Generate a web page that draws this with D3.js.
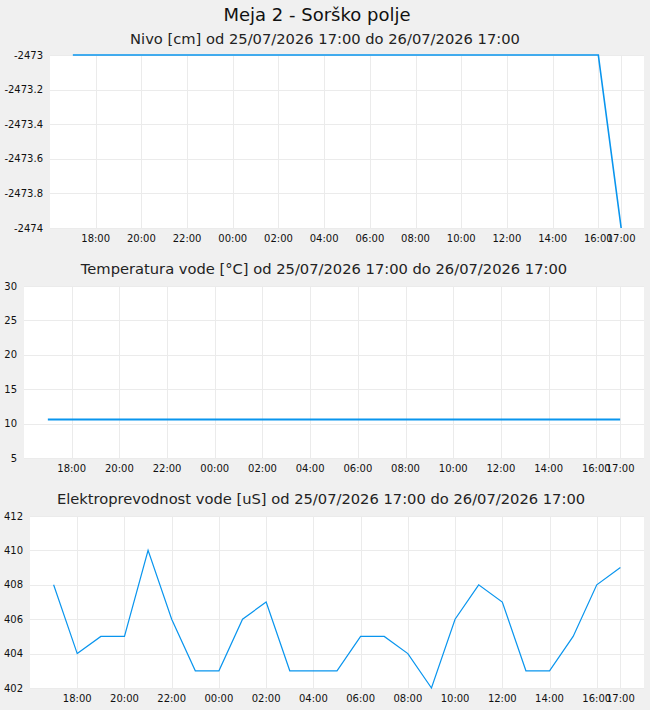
<!DOCTYPE html>
<html>
<head>
<meta charset="utf-8">
<script src="https://cdn.jsdelivr.net/npm/d3@7"></script>
<style>
  body { margin: 0; background: #f0f0f0; }
  svg { display: block; font-family: "DejaVu Sans", sans-serif; }
  .grid line { stroke: #ebebeb; stroke-width: 1; }
  .tick-label { font-size: 10px; fill: #111; }
  .sub-title { font-size: 14.7px; fill: #222; }
</style>
</head>
<body>
<svg id="chart" width="650" height="710"></svg>
<script>
// ======== data
const times = [
  "2026-07-25 17:00", "2026-07-25 18:00", "2026-07-25 19:00", "2026-07-25 20:00",
  "2026-07-25 21:00", "2026-07-25 22:00", "2026-07-25 23:00", "2026-07-26 00:00",
  "2026-07-26 01:00", "2026-07-26 02:00", "2026-07-26 03:00", "2026-07-26 04:00",
  "2026-07-26 05:00", "2026-07-26 06:00", "2026-07-26 07:00", "2026-07-26 08:00",
  "2026-07-26 09:00", "2026-07-26 10:00", "2026-07-26 11:00", "2026-07-26 12:00",
  "2026-07-26 13:00", "2026-07-26 14:00", "2026-07-26 15:00", "2026-07-26 16:00",
  "2026-07-26 17:00"
];

const nivo = [
  -2473, -2473, -2473, -2473, -2473, -2473, -2473, -2473, -2473, -2473,
  -2473, -2473, -2473, -2473, -2473, -2473, -2473, -2473, -2473, -2473,
  -2473, -2473, -2473, -2473, -2474
];

const temperatura = [
  10.6, 10.6, 10.6, 10.6, 10.6, 10.6, 10.6, 10.6, 10.6, 10.6,
  10.6, 10.6, 10.6, 10.6, 10.6, 10.6, 10.6, 10.6, 10.6, 10.6,
  10.6, 10.6, 10.6, 10.6, 10.6
];

const prevodnost = [
  408, 404, 405, 405, 410, 406, 403, 403, 406, 407,
  403, 403, 403, 405, 405, 404, 402, 406, 408, 407,
  403, 403, 405, 408, 409
];

const xTickTimes = [
  "2026-07-25 18:00", "2026-07-25 20:00", "2026-07-25 22:00", "2026-07-26 00:00",
  "2026-07-26 02:00", "2026-07-26 04:00", "2026-07-26 06:00", "2026-07-26 08:00",
  "2026-07-26 10:00", "2026-07-26 12:00", "2026-07-26 14:00", "2026-07-26 16:00",
  "2026-07-26 17:00"
];

const nivoTicks = [-2474, -2473.8, -2473.6, -2473.4, -2473.2, -2473];
const tempTicks = [5, 10, 15, 20, 25, 30];
const prevodnostTicks = [402, 404, 406, 408, 410, 412];

const mainTitle = "Meja 2 - Sorško polje";
const period = "od 25/07/2026 17:00 do 26/07/2026 17:00";
// ======== data 끝

const parseTime = d3.timeParse("%Y-%m-%d %H:%M");
const fmtHour = d3.timeFormat("%H:%M");
const dates = times.map(parseTime);
const xTicks = xTickTimes.map(parseTime);
const xDomain = [parseTime("2026-07-25 16:00"), parseTime("2026-07-26 18:00")];

const svg = d3.select("#chart");
const LINE_COLOR = "#0995ee";

svg.append("text")
  .attr("x", 317)
  .attr("y", 21)
  .attr("text-anchor", "middle")
  .attr("font-size", 18)
  .attr("fill", "#111")
  .text(mainTitle);

// plain hyphen for negatives, like the original
const plain = d => String(+d.toFixed(1));

const panels = [
  { title: "Nivo [cm] " + period, titleX: 325, titleY: 44, top: 55, bottom: 228, left: 50,
    values: nivo, domain: [-2474, -2473], ticks: nivoTicks, width: 1.6 },
  { title: "Temperatura vode [°C] " + period, titleX: 324, titleY: 274, top: 286, bottom: 458, left: 24,
    values: temperatura, domain: [5, 30], ticks: tempTicks, width: 2 },
  { title: "Elektroprevodnost vode [uS] " + period, titleX: 321, titleY: 504, top: 516, bottom: 688, left: 30,
    values: prevodnost, domain: [402, 412], ticks: prevodnostTicks, width: 1.2 }
];

panels.forEach(p => {
  const right = 644;
  const x = d3.scaleTime().domain(xDomain).range([p.left, right]);
  const y = d3.scaleLinear().domain(p.domain).range([p.bottom, p.top]);

  svg.append("text")
    .attr("class", "sub-title")
    .attr("x", p.titleX)
    .attr("y", p.titleY)
    .attr("text-anchor", "middle")
    .text(p.title);

  svg.append("rect")
    .attr("x", p.left)
    .attr("y", p.top)
    .attr("width", right - p.left)
    .attr("height", p.bottom - p.top)
    .attr("fill", "#fff");

  const grid = svg.append("g").attr("class", "grid");
  grid.selectAll("line.h")
    .data(p.ticks)
    .join("line")
    .attr("class", "h")
    .attr("x1", p.left)
    .attr("x2", right)
    .attr("y1", d => Math.round(y(d)) + 0.5)
    .attr("y2", d => Math.round(y(d)) + 0.5);
  grid.selectAll("line.v")
    .data(xTicks)
    .join("line")
    .attr("class", "v")
    .attr("x1", d => Math.round(x(d)) + 0.5)
    .attr("x2", d => Math.round(x(d)) + 0.5)
    .attr("y1", p.top)
    .attr("y2", p.bottom);

  // y axis labels
  svg.append("g")
    .selectAll("text")
    .data(p.ticks)
    .join("text")
    .attr("class", "tick-label")
    .attr("x", p.left - 7)
    .attr("y", d => y(d))
    .attr("dy", "0.35em")
    .attr("text-anchor", "end")
    .text(plain);

  // x axis labels
  svg.append("g")
    .selectAll("text")
    .data(xTicks)
    .join("text")
    .attr("class", "tick-label")
    .attr("x", d => x(d))
    .attr("y", p.bottom + 10)
    .attr("dy", "0.35em")
    .attr("text-anchor", "middle")
    .text(d => fmtHour(d));

  const line = d3.line()
    .x((d, i) => x(dates[i]))
    .y(d => y(d));

  svg.append("path")
    .datum(p.values)
    .attr("fill", "none")
    .attr("stroke", LINE_COLOR)
    .attr("stroke-width", p.width)
    .attr("d", line);
});
</script>
</body>
</html>
